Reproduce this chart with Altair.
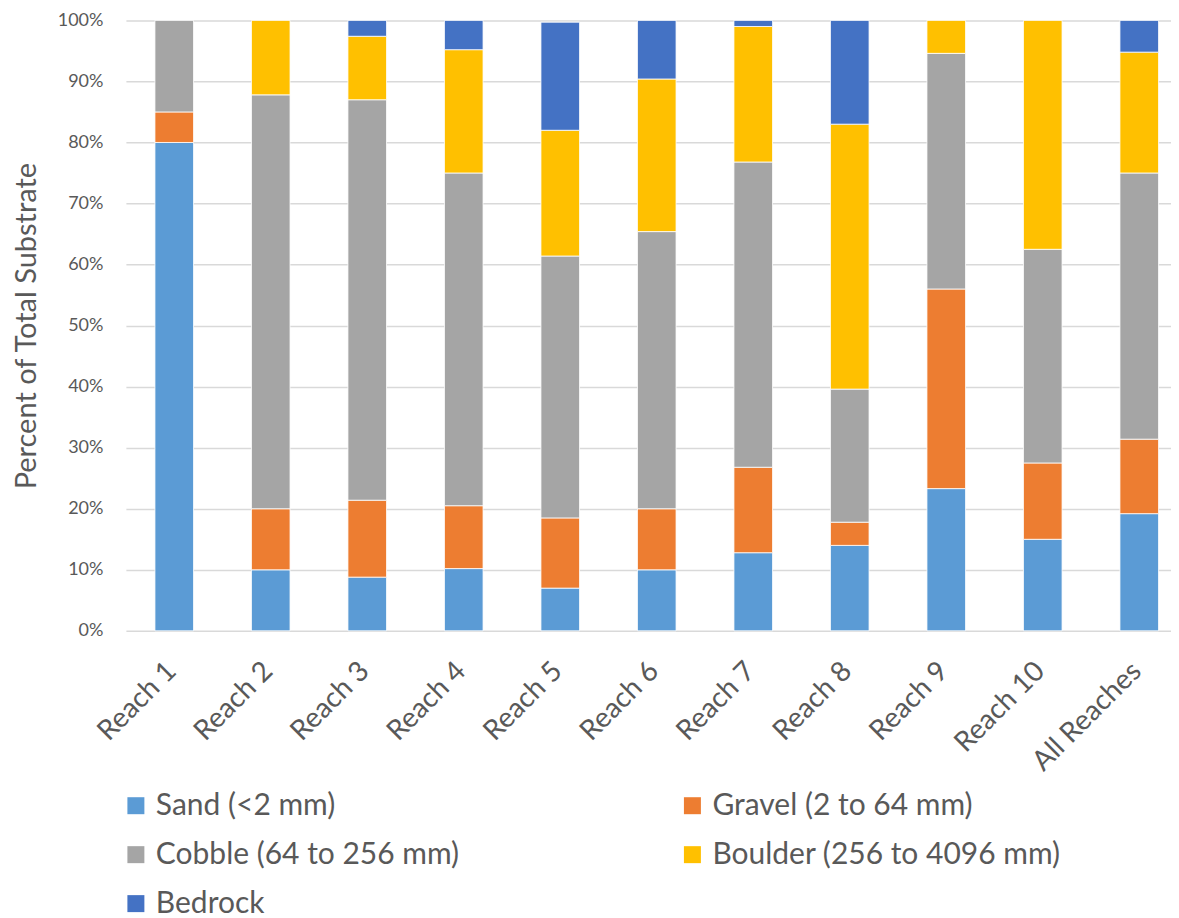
import altair as alt
import pandas as pd

reaches = ["Reach 1", "Reach 2", "Reach 3", "Reach 4", "Reach 5", "Reach 6",
           "Reach 7", "Reach 8", "Reach 9", "Reach 10", "All Reaches"]
substrates = ["Sand (<2 mm)", "Gravel (2 to 64 mm)", "Cobble (64 to 256 mm)",
              "Boulder (256 to 4096 mm)", "Bedrock"]
colors = ["#5B9BD5", "#ED7D31", "#A5A5A5", "#FFC000", "#4472C4"]

sand = [80, 10, 8.8, 10.2, 7, 10, 12.8, 14, 23.3, 15, 19.2]
gravel = [5, 10, 12.6, 10.3, 11.5, 10, 14, 3.8, 32.7, 12.5, 12.2]
cobble = [15, 67.8, 65.6, 54.5, 42.9, 45.4, 50, 21.8, 38.6, 35, 43.6]
boulder = [0, 12.2, 10.4, 20.2, 20.6, 25, 22.2, 43.4, 5.4, 37.5, 19.8]
bedrock = [0, 0, 2.6, 4.8, 17.7, 9.6, 1, 17, 0, 0, 5.2]

series = [sand, gravel, cobble, boulder, bedrock]
rows = []
for si, (name, vals) in enumerate(zip(substrates, series)):
    for r, v in zip(reaches, vals):
        if v > 0:
            rows.append({"reach": r, "substrate": name, "value": v, "idx": si})
df = pd.DataFrame(rows)

FONT = "Lato"
TXT = "#595959"

chart = alt.Chart(df).mark_bar(stroke="white", strokeWidth=0.8).encode(
    x=alt.X("reach:N", sort=reaches,
            scale=alt.Scale(paddingInner=0.6, paddingOuter=0.215, align=0.7),
            axis=alt.Axis(title=None, labelAngle=-45, labelFontSize=28,
                          labelColor=TXT, labelFont=FONT, ticks=False,
                          domain=False, labelPadding=26, labelOffset=-12)),
    y=alt.Y("value:Q", stack="zero",
            scale=alt.Scale(domain=[0, 100], nice=False),
            axis=alt.Axis(values=list(range(0, 101, 10)),
                          labelExpr="datum.value + '%'",
                          title="Percent of Total Substrate",
                          titleFont=FONT, titleFontSize=29, titleFontWeight="normal",
                          titleColor=TXT, titlePadding=16,
                          labelFont=FONT, labelFontSize=18, labelColor=TXT,
                          labelPadding=23, ticks=False, tickSize=0, domain=False,
                          grid=True, gridColor="#D9D9D9", gridWidth=1.5)),
    color=alt.Color("substrate:N",
                    scale=alt.Scale(domain=substrates, range=colors),
                    legend=alt.Legend(title=None, orient="none", legendX=-5, legendY=771,
                                      direction="horizontal",
                                      columns=2, columnPadding=218, rowPadding=19,
                                      symbolType="square", symbolSize=289,
                                      symbolStrokeWidth=0, labelOffset=5,
                                      labelFont=FONT, labelFontSize=30,
                                      labelColor=TXT, labelLimit=600, padding=0)),
    order=alt.Order("idx:Q", sort="ascending"),
).properties(
    width=1046, height=611,
    padding={"left": 4, "top": 3, "right": 0, "bottom": 0},
    background="white",
).configure_view(stroke=None)

chart.save("out.html", embed_options={"renderer": "svg", "actions": False})
